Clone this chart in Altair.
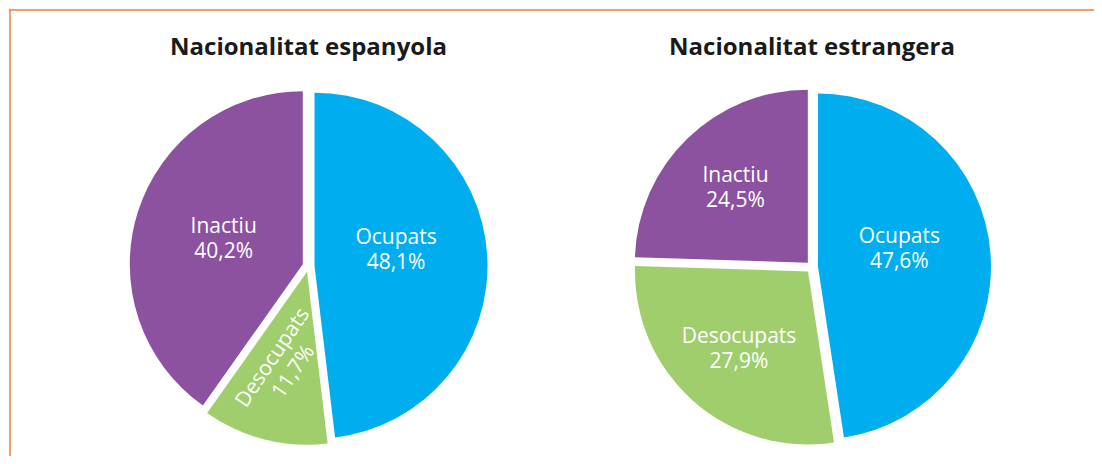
import altair as alt
import pandas as pd

# ---- data ----
groups = ["Nacionalitat espanyola", "Nacionalitat estrangera"]
categories = ["Ocupats", "Desocupats", "Inactiu"]
values_espanyola = [48.1, 11.7, 40.2]
values_estrangera = [47.6, 27.9, 24.5]
colors = ["#00AEEF", "#A0CE6C", "#8C52A0"]

rows = []
for g, vals in zip(groups, [values_espanyola, values_estrangera]):
    for i, (c, v) in enumerate(zip(categories, vals)):
        rows.append({"group": g, "category": c, "value": v, "order": i,
                     "label": c + "\n" + f"{v:.1f}".replace(".", ",") + "%"})
df = pd.DataFrame(rows)

W, H = 1086, 448
R = 173
OFF = 6
LH = 25
centers = {groups[0]: (299.5, 257), groups[1]: (803, 258)}
FONT = "Open Sans"

color_scale = alt.Scale(domain=categories, range=colors)
theta_scale = alt.Scale(domain=[0, 100], range=[0, 6.283185307179586])

layers = []
for g in groups:
    cx, cy = centers[g]
    base = (
        alt.Chart(df)
        .transform_filter(alt.datum.group == g)
        .transform_window(cum="sum(value)", frame=[None, 0], sort=[alt.SortField("order")])
        .transform_calculate(
            start="datum.cum - datum.value",
            mid="(datum.cum - datum.value/2) / 100 * 2 * PI",
            rotated="datum.value < 15",
        )
        .transform_calculate(
            px=f"{cx} + {OFF} * sin(datum.mid)",
            py=f"{cy} - {OFF} * cos(datum.mid)",
            lr="datum.rotated ? 102 : (datum.value < 35 ? 110 : 89)",
            la="datum.category == 'Ocupats' ? datum.mid - 0.12 : datum.mid",
            rot="datum.rotated ? 304 : 0",
        )
        .transform_calculate(
            lx=f"{cx} + datum.lr * sin(datum.la) - (datum.rotated ? {LH/2} * sin(56 * PI / 180) : 0)",
            ly=f"{cy} - datum.lr * cos(datum.la) - (datum.rotated ? {LH/2} * cos(56 * PI / 180) : {LH/2})",
        )
    )
    arcs = base.mark_arc(radius=R).encode(
        theta=alt.Theta("start:Q", scale=theta_scale),
        theta2="cum:Q",
        x=alt.X("px:Q", scale=None),
        y=alt.Y("py:Q", scale=None),
        color=alt.Color("category:N", scale=color_scale, legend=None),
    )
    labels = base.mark_text(
        font=FONT, fontSize=21, color="white", lineBreak="\n", lineHeight=LH,
        align="center", baseline="middle",
    ).encode(
        x=alt.X("lx:Q", scale=None),
        y=alt.Y("ly:Q", scale=None),
        angle=alt.Angle("rot:Q", scale=None),
        text="label:N",
    )
    title = alt.Chart(pd.DataFrame({"t": [g]})).mark_text(
        font=FONT, fontSize=24, fontWeight="bold", color="#1a1a1a",
        align="center", baseline="alphabetic",
    ).encode(x=alt.value(cx), y=alt.value(46), text="t:N")
    layers += [arcs, labels, title]

frame_top = alt.Chart(pd.DataFrame({"a": [0]})).mark_rule(
    color="#F37B3F", strokeWidth=1.5
).encode(x=alt.value(0), x2=alt.value(W), y=alt.value(1))
frame_left = alt.Chart(pd.DataFrame({"a": [0]})).mark_rule(
    color="#F37B3F", strokeWidth=1.5
).encode(x=alt.value(1), y=alt.value(0), y2=alt.value(H))

chart = (
    alt.layer(frame_top, frame_left, *layers)
    .properties(width=W, height=H, padding=0,
                autosize=alt.AutoSizeParams(type="fit", contains="padding"))
    .configure_view(stroke=None)
)

chart.save("out.html", embed_options={"renderer": "svg", "actions": False})
